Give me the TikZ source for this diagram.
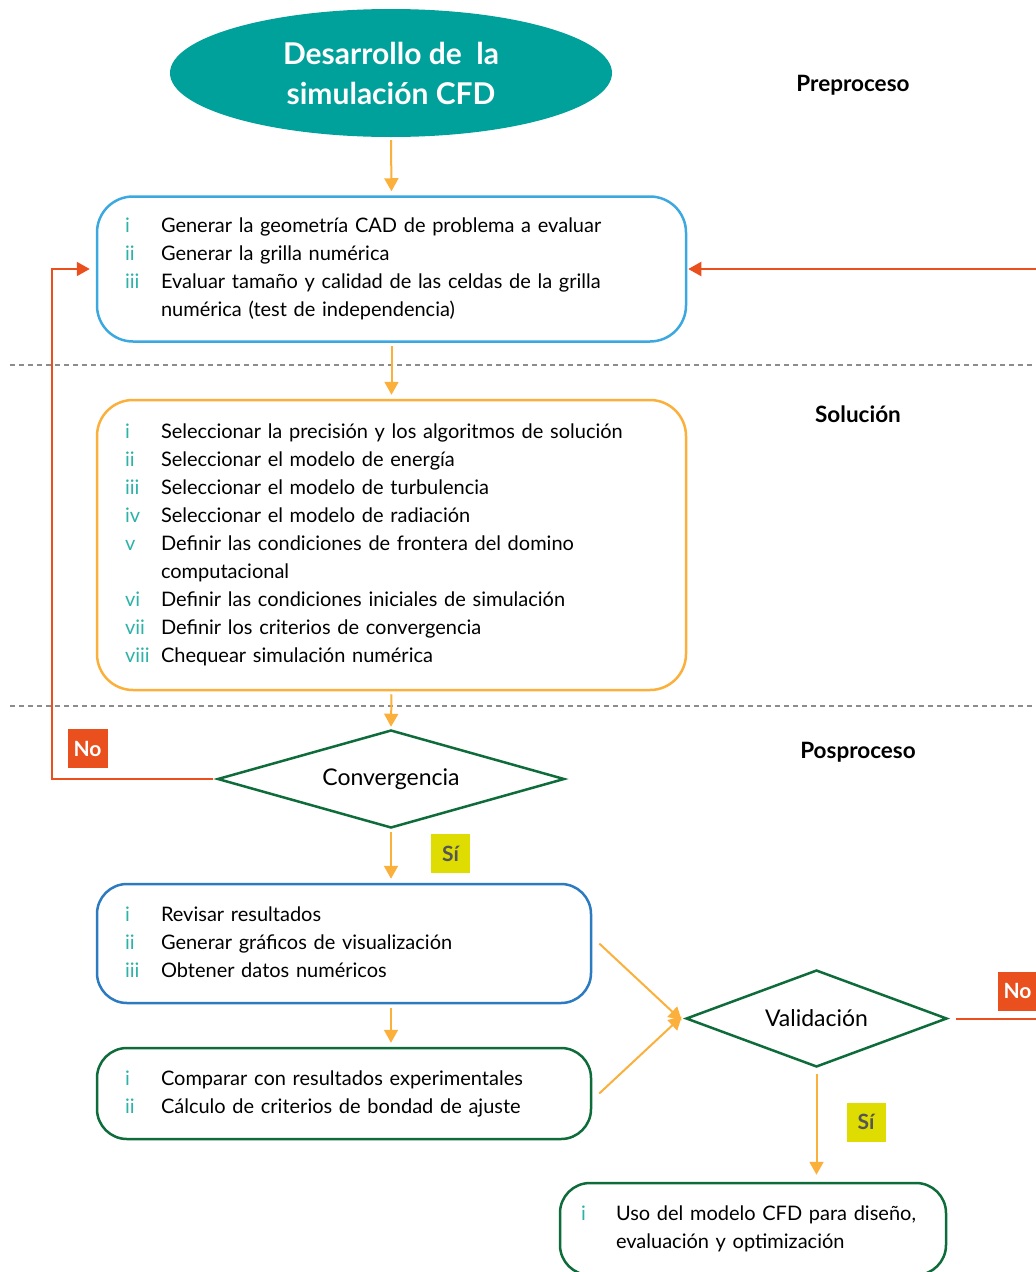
\documentclass[tikz,border=0pt]{standalone}
\usepackage{fontspec}
\setmainfont{Lato}
\usetikzlibrary{shapes.geometric,arrows.meta}
\definecolor{tealfill}{HTML}{00A19A}
\definecolor{numc}{HTML}{2EB2A8}
\definecolor{arrowor}{HTML}{FBB03B}
\definecolor{redor}{HTML}{E9501E}
\definecolor{blueA}{HTML}{3CA8E0}
\definecolor{blueB}{HTML}{2C7BC0}
\definecolor{greenA}{HTML}{0E6B3A}
\definecolor{yel}{HTML}{DEDC00}
\definecolor{dashg}{HTML}{8C8C8C}
\definecolor{sig}{HTML}{555555}
\newcommand\nm[1]{\textcolor{numc}{#1}}
\begin{document}
\begin{tikzpicture}[x=1pt,y=-1pt,
  box/.style={rounded corners=36pt, line width=2.5pt, inner xsep=28pt, inner ysep=0pt,
    align=left, font=\fontsize{20}{28}\selectfont},
  oarrow/.style={draw=arrowor, line width=2pt, -{Triangle[length=13pt,width=14pt]}},
  rarrow/.style={draw=redor, line width=2pt, -{Triangle[length=13pt,width=14pt]}},
  dec/.style={diamond, draw=greenA, line width=2.5pt, inner sep=0pt, aspect=3.5,
    font=\fontsize{23}{26}\selectfont},
  dashline/.style={draw=dashg, line width=2pt, dash pattern=on 5pt off 4pt},
  phase/.style={font=\fontsize{22.5}{26}\selectfont\bfseries},
  nolab/.style={fill=redor, text=white, font=\fontsize{21}{24}\selectfont\bfseries,
    minimum width=40pt, minimum height=39pt, inner sep=0pt},
  silab/.style={fill=yel, text=sig, font=\fontsize{21}{24}\selectfont\bfseries,
    minimum width=39pt, minimum height=39pt, inner sep=0pt}
]
\useasboundingbox (0,0) rectangle (1036,1272);
\clip (0,0) rectangle (1036,1272);

% dashed separators
\coordinate (d1l) at (10,365); \coordinate (d1r) at (1036,365);
\coordinate (d2l) at (10,706); \coordinate (d2r) at (1036,706);
\draw[dashline] (d1l) -- (d1r);
\draw[dashline] (d2l) -- (d2r);

% phase labels
\node[phase] (pre) at (853,85) {Preproceso};
\node[phase] (sol) at (858,414) {Solución};
\node[phase] (pos) at (858,752) {Posproceso};

% start
\node[ellipse, fill=tealfill, minimum width=442pt, minimum height=128pt, inner sep=0pt,
  text=white, align=center, font=\fontsize{30}{40}\selectfont\bfseries] (start) at (391,73)
  {Desarrollo de~ la\\simulación CFD};

% box 1
\node[box, draw=blueA, text width=533pt, minimum height=145pt] (b1) at (391.5,269) {%
\begin{tabular}{@{}p{36pt}@{}l@{}}
\nm{i} & Generar la geometría CAD de problema a evaluar\\
\nm{ii} & Generar la grilla numérica\\
\nm{iii} & Evaluar tamaño y calidad de las celdas de la grilla\\
 & numérica (test de independencia)
\end{tabular}};

% box 2
\node[box, draw=arrowor, text width=533pt, minimum height=290pt] (b2) at (391.5,545) {%
\begin{tabular}{@{}p{36pt}@{}l@{}}
\nm{i} & Seleccionar la precisión y los algoritmos de solución\\
\nm{ii} & Seleccionar el modelo de energía\\
\nm{iii} & Seleccionar el modelo de turbulencia\\
\nm{iv} & Seleccionar el modelo de radiación\\
\nm{v} & Definir las condiciones de frontera del domino\\
 & computacional\\
\nm{vi} & Definir las condiciones iniciales de simulación\\
\nm{vii} & Definir los criterios de convergencia\\
\nm{viii} & Chequear simulación numérica
\end{tabular}};

% convergence
\node[dec, minimum width=347pt, minimum height=98pt] (conv) at (391,779) {Convergencia};

% box 3
\node[box, draw=blueB, rounded corners=30pt, text width=438pt, minimum height=119pt] (b3) at (344,943.5) {%
\begin{tabular}{@{}p{36pt}@{}l@{}}
\nm{i} & Revisar resultados\\
\nm{ii} & Generar gráficos de visualización\\
\nm{iii} & Obtener datos numéricos
\end{tabular}};

% box 4
\node[box, draw=greenA, rounded corners=30pt, text width=438pt, minimum height=91pt] (b4) at (344,1093.5) {%
\begin{tabular}{@{}p{36pt}@{}l@{}}
\nm{i} & Comparar con resultados experimentales\\
\nm{ii} & Cálculo de criterios de bondad de ajuste
\end{tabular}};

% validation
\node[dec, minimum width=261pt, minimum height=97pt] (val) at (816.5,1018.5) {Validación};

% box 5
\node[box, draw=greenA, rounded corners=30pt, inner xsep=21pt, text width=344pt, minimum height=92pt] (b5) at (753,1229) {%
\begin{tabular}{@{}p{35pt}@{}l@{}}
\nm{i} & Uso del modelo CFD para diseño,\\
 & evaluación y optimización
\end{tabular}};

% orange flow arrows
\draw[oarrow, shorten <=3pt, shorten >=4pt] (start.south) -- (b1.north);
\draw[oarrow, shorten <=3pt, shorten >=4pt] (b1.south) -- (b2.north);
\draw[oarrow, shorten <=3pt, shorten >=2pt] (b2.south) -- (conv.north);
\draw[oarrow, shorten <=3pt, shorten >=4pt] (conv.south) -- (conv.south |- b3.north);
\draw[oarrow, shorten <=4pt, shorten >=4pt] (b3.south -| conv.south) -- (b4.north -| conv.south);
\draw[oarrow] ([xshift=7pt]b3.east) -- ([xshift=-3pt,yshift=-2pt]val.west);
\draw[oarrow] ([xshift=7pt]b4.east) -- ([xshift=-3pt,yshift=2pt]val.west);
\draw[oarrow, shorten <=6pt, shorten >=7pt] (val.south) -- (val.south |- b5.north);

% No loops
\coordinate (nl) at (52,779);
\draw[rarrow, shorten >=6pt] ([xshift=-3pt]conv.west) -- (nl) |- (b1.west);
\coordinate (nr) at (1046,1018.5);
\draw[rarrow, shorten >=1pt] ([xshift=8pt]val.east) -- (nr) |- (b1.east);

% labels
\node[nolab] (no1) at (87.5,748.5) {No};
\node[nolab] (no2) at (1017.5,991) {No};
\node[silab] (si1) at (450.5,853.5) {Sí};
\node[silab] (si2) at (866,1122) {Sí};
\end{tikzpicture}
\end{document}
